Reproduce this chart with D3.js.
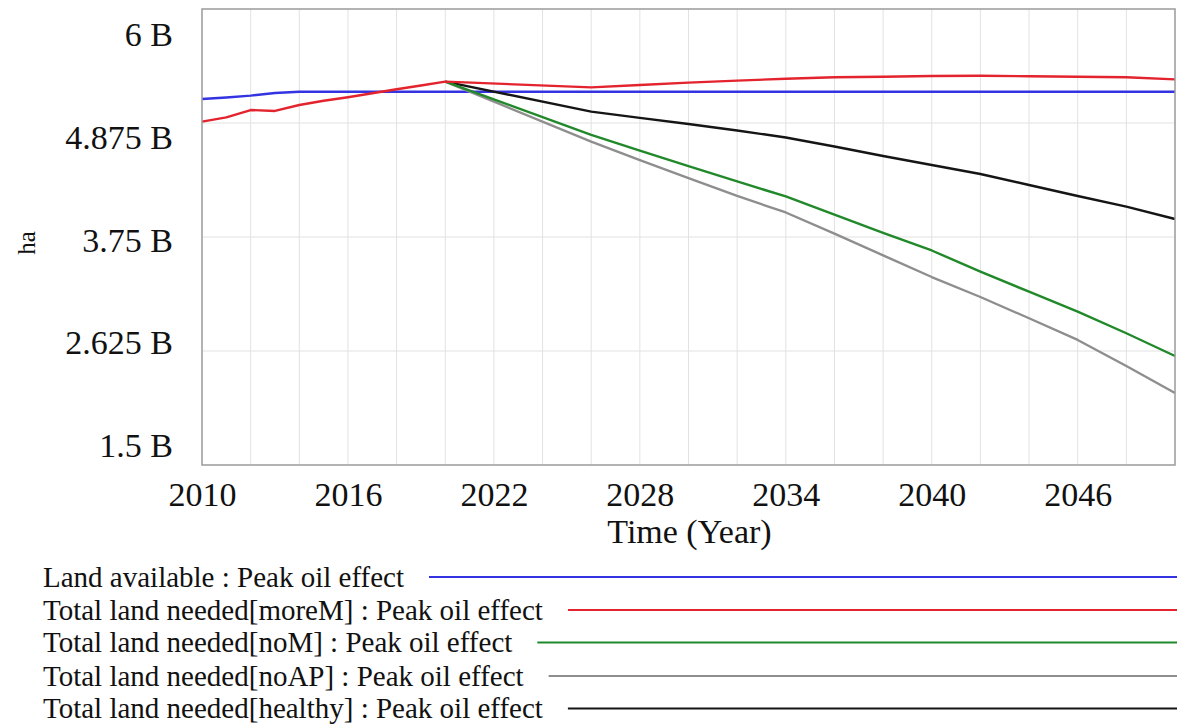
<!DOCTYPE html>
<html>
<head>
<meta charset="utf-8">
<script src="https://cdn.jsdelivr.net/npm/d3@7"></script>
<style>
  html, body { margin: 0; padding: 0; background: #fff; }
  svg { display: block; }
  text { font-family: "Liberation Serif", "Times New Roman", serif; fill: #111; }
</style>
</head>
<body>
<svg id="chart" width="1177" height="724"></svg>
<script>
// ---- data (values in billions of ha) ----
const years = [2010, 2011, 2012, 2013, 2014, 2015, 2016, 2017, 2018, 2019, 2020,
               2026, 2028, 2030, 2032, 2034, 2036, 2038, 2040, 2042, 2044, 2046, 2048, 2050];
const landAvailable = [5.112, 5.127, 5.145, 5.171, 5.184, 5.184, 5.184, 5.184, 5.184, 5.184, 5.184,
                       5.184, 5.184, 5.184, 5.184, 5.184, 5.184, 5.184, 5.184, 5.184, 5.184, 5.184, 5.184, 5.184];
const neededMoreM = [4.888, 4.931, 5.003, 4.994, 5.053, 5.095, 5.129, 5.168, 5.208, 5.245, 5.283,
                     5.227, 5.250, 5.273, 5.293, 5.312, 5.326, 5.332, 5.339, 5.342, 5.336, 5.332, 5.326, 5.306];
const neededNoM = [null, null, null, null, null, null, null, null, null, null, 5.283,
                   4.757, 4.602, 4.449, 4.298, 4.150, 3.970, 3.790, 3.617, 3.408, 3.210, 3.013, 2.800, 2.576];
const neededNoAP = [null, null, null, null, null, null, null, null, null, null, 5.283,
                    4.691, 4.509, 4.332, 4.155, 3.992, 3.783, 3.569, 3.355, 3.158, 2.948, 2.734, 2.477, 2.211];
const neededHealthy = [null, null, null, null, null, null, null, null, null, null, 5.283,
                       4.987, 4.925, 4.865, 4.801, 4.732, 4.643, 4.549, 4.461, 4.372, 4.263, 4.155, 4.049, 3.928];

const seriesNames = [
  "Land available : Peak oil effect",
  "Total land needed[moreM] : Peak oil effect",
  "Total land needed[noM] : Peak oil effect",
  "Total land needed[noAP] : Peak oil effect",
  "Total land needed[healthy] : Peak oil effect"
];
const seriesColors = ["#3333e2", "#e3232d", "#21892a", "#8e8e8e", "#151515"];
const seriesValues = [landAvailable, neededMoreM, neededNoM, neededNoAP, neededHealthy];

const yTicks = [1.5, 2.625, 3.75, 4.875, 6];
const xTickLabels = [2010, 2016, 2022, 2028, 2034, 2040, 2046];
const xGridYears = d3.range(2010, 2051, 2);
const xTitle = "Time (Year)";
const yTitle = "ha";

// ---- layout ----
const svg = d3.select("#chart");
const L = 202, R = 1175, T = 9, B = 465;

const x = d3.scaleLinear().domain([2010, 2050]).range([L, R]);
const y = d3.scaleLinear().domain([1.5, 6]).range([B, T]);
// tick labels are spread inside the plot height (Vensim style)
const yLab = d3.scaleLinear().domain([1.5, 6]).range([445, 34]);

// gridlines
const grid = svg.append("g");
grid.selectAll("line.v").data(xGridYears.filter(d => d > 2010 && d < 2050)).join("line")
  .attr("x1", d => x(d)).attr("x2", d => x(d)).attr("y1", T).attr("y2", B)
  .attr("stroke", "#e2e2e2").attr("stroke-width", 1);
grid.selectAll("line.h").data(yTicks.filter(d => d > 1.5 && d < 6)).join("line")
  .attr("x1", L).attr("x2", R).attr("y1", d => y(d)).attr("y2", d => y(d))
  .attr("stroke", "#e2e2e2").attr("stroke-width", 1);

// lines
const lineGen = d3.line()
  .defined(d => d[1] != null)
  .x(d => x(d[0]))
  .y(d => y(d[1]));

const drawOrder = [0, 4, 3, 2, 1];
drawOrder.forEach(i => {
  const pts = years.map((yr, k) => [yr, seriesValues[i][k]]);
  svg.append("path")
    .attr("d", lineGen(pts))
    .attr("fill", "none")
    .attr("stroke", seriesColors[i])
    .attr("stroke-width", 2.4)
    .attr("stroke-linejoin", "round");
});

// frame
svg.append("rect")
  .attr("x", L).attr("y", T).attr("width", R - L).attr("height", B - T)
  .attr("fill", "none").attr("stroke", "#9a9a9a").attr("stroke-width", 1.5);

// y axis labels
const yAxis = d3.axisLeft(yLab).tickValues(yTicks).tickSize(0).tickPadding(0)
  .tickFormat(d => d + " B");
const gy = svg.append("g").attr("transform", `translate(173,0)`).call(yAxis);
gy.select(".domain").remove();
gy.selectAll("text").attr("font-family", "Liberation Serif, serif").attr("font-size", 34)
  .attr("fill", "#111").attr("dy", "0.34em");

// x axis labels
const xAxis = d3.axisBottom(x).tickValues(xTickLabels).tickSize(0).tickPadding(0)
  .tickFormat(d3.format("d"));
const gx = svg.append("g").attr("transform", `translate(0,${B})`).call(xAxis);
gx.select(".domain").remove();
gx.selectAll("text").attr("font-family", "Liberation Serif, serif").attr("font-size", 34)
  .attr("fill", "#111").attr("dy", null).attr("y", 41);

// axis titles
svg.append("text").attr("x", (L + R) / 2 + 1).attr("y", 543)
  .attr("text-anchor", "middle").attr("font-size", 34).text(xTitle);
svg.append("text").attr("transform", "translate(35,243) rotate(-90)")
  .attr("text-anchor", "middle").attr("font-size", 25).text(yTitle);

// legend
const legY = [577, 610, 642.5, 676, 708.5];
seriesNames.forEach((name, i) => {
  const t = svg.append("text").attr("x", 43).attr("y", legY[i]).attr("dy", "0.33em")
    .attr("font-size", 29).text(name);
  const w = t.node().getComputedTextLength();
  svg.append("line")
    .attr("x1", 43 + w + 25).attr("x2", 1177)
    .attr("y1", legY[i]).attr("y2", legY[i])
    .attr("stroke", seriesColors[i]).attr("stroke-width", 2);
});
</script>
</body>
</html>
